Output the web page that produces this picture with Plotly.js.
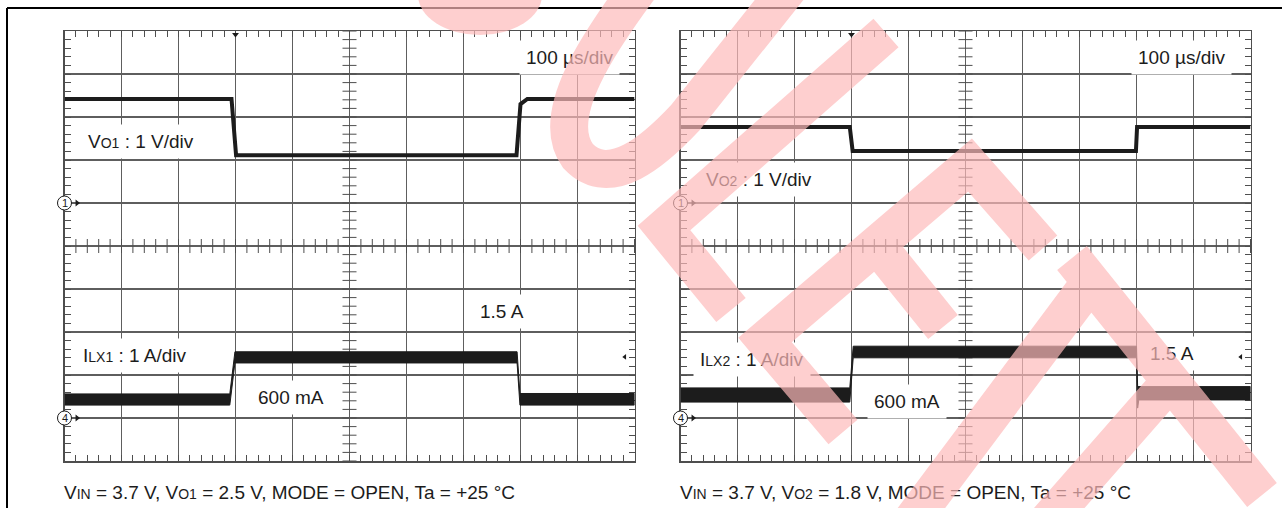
<!DOCTYPE html>
<html>
<head>
<meta charset="utf-8">
<script src="https://cdn.plot.ly/plotly-3.0.1.min.js"></script>
<style>
html,body{margin:0;padding:0;background:#fff;}
#wrap{position:relative;width:1282px;height:508px;overflow:hidden;}
#chart,#wm{position:absolute;left:0;top:0;width:1282px;height:508px;}
#wm{pointer-events:none;}
</style>
</head>
<body>
<div id="wrap"><div id="chart"></div><div id="wm"></div></div>
<script>
// ---------------- DATA ----------------
// time in µs, 100 µs/div, 10 divisions
// Left screen: Vo1 (V, relative to ground marker 1), ILX1 (A, relative to ground marker 4)
const vo1_t   = [0, 293, 301, 793, 800, 812, 1000];
const vo1_v   = [2.42, 2.42, 1.11, 1.11, 2.30, 2.42, 2.42];
const ilx1_t  = [0, 290, 299, 794, 799, 1000];
const ilx1_hi = [0.56, 0.56, 1.54, 1.54, 0.57, 0.57];
const ilx1_lo = [0.30, 0.30, 1.28, 1.28, 0.30, 0.30];
// Right screen: Vo2, ILX2
const vo2_t   = [0, 297, 302, 799, 801, 1000];
const vo2_v   = [1.77, 1.77, 1.21, 1.21, 1.77, 1.77];
const ilx2_t  = [0, 297, 303, 800, 802, 804, 1000];
const ilx2_hi = [0.70, 0.70, 1.67, 1.67, 0.73, 0.73, 0.73];
const ilx2_lo = [0.37, 0.37, 1.40, 1.40, 0.23, 0.42, 0.42];
// trigger position (µs) and trigger level (A) for left / right screen
const trig_t     = [300, 300];
const trig_level = [1.42, 1.42];
// labels
const timeLabel   = '100 µs/div';
const vLabels     = ['V<span style="font-size:14px">O1</span> : 1 V/div', 'V<span style="font-size:14px">O2</span> : 1 V/div'];
const iLabels     = ['I<span style="font-size:14px">LX1</span> : 1 A/div', 'I<span style="font-size:14px">LX2</span> : 1 A/div'];
const lowLabel    = '600 mA';
const highLabel   = '1.5 A';
const condLabels  = [
  'V<span style="font-size:14px">IN</span> = 3.7 V, V<span style="font-size:14px">O1</span> = 2.5 V, MODE = OPEN, Ta = +25 °C',
  'V<span style="font-size:14px">IN</span> = 3.7 V, V<span style="font-size:14px">O2</span> = 1.8 V, MODE = OPEN, Ta = +25 °C'
];
const channelNums = ['1', '4'];

// ---------------- STYLE / LAYOUT ----------------
const W = 1282, H = 508;
const INK = '#1c1c1c', GRID = '#5e5e5e', BORDER = '#4e4e4e';
const FONT = "'Liberation Sans', Arial, Helvetica, sans-serif";
const CH1_GND = 6, CH4_GND = 1;        // ground reference positions, divisions from bottom
const V_PER_DIV = 1, A_PER_DIV = 1;

const yDom = [47 / H, 477 / H];
const xDoms = [[64.5 / W, 634.5 / W], [680.5 / W, 1250.5 / W]];

function axX(domain, anchor) {
  return {domain, anchor, range: [0, 1000], tick0: 0, dtick: 100, showgrid: true, gridcolor: GRID, gridwidth: 1.2,
    showline: true, linecolor: BORDER, linewidth: 1.5, mirror: 'allticks', ticks: 'inside', ticklen: 6,
    tickcolor: BORDER, tickwidth: 1, showticklabels: false, zeroline: false, fixedrange: true, layer: 'below traces',
    minor: {tick0: 0, dtick: 20, ticks: 'inside', ticklen: 6, tickcolor: BORDER, tickwidth: 1, showgrid: false}};
}
function axY(domain, anchor) {
  return {domain, anchor, range: [0, 10], tick0: 0, dtick: 1, showgrid: true, gridcolor: GRID, gridwidth: 1.2,
    showline: true, linecolor: BORDER, linewidth: 1.5, mirror: 'allticks', ticks: 'inside', ticklen: 6,
    tickcolor: BORDER, tickwidth: 1, showticklabels: false, zeroline: false, fixedrange: true, layer: 'below traces',
    minor: {tick0: 0, dtick: 0.2, ticks: 'inside', ticklen: 6, tickcolor: BORDER, tickwidth: 1, showgrid: false}};
}

const screens = [
  {xa: 'x', ya: 'y', vt: vo1_t, vv: vo1_v, it: ilx1_t, ihi: ilx1_hi, ilo: ilx1_lo},
  {xa: 'x2', ya: 'y2', vt: vo2_t, vv: vo2_v, it: ilx2_t, ihi: ilx2_hi, ilo: ilx2_lo}
];

const traces = [];
screens.forEach((s, k) => {
  // centre-line graticule ticks
  const cx = [], cy = [];
  for (let i = 0; i <= 50; i++) { cx.push(i * 20); cy.push(i * 0.2); }
  traces.push({type: 'scatter', mode: 'markers', x: cx, y: cx.map(() => 5), xaxis: s.xa, yaxis: s.ya,
    marker: {symbol: 'line-ns-open', size: 10, color: BORDER, line: {color: BORDER, width: 1}}, hoverinfo: 'skip', cliponaxis: false});
  traces.push({type: 'scatter', mode: 'markers', x: cy.map(() => 500), y: cy, xaxis: s.xa, yaxis: s.ya,
    marker: {symbol: 'line-ew-open', size: 10, color: BORDER, line: {color: BORDER, width: 1}}, hoverinfo: 'skip', cliponaxis: false});
  // voltage trace
  traces.push({type: 'scatter', mode: 'lines', x: s.vt, y: s.vv.map(v => CH1_GND + v / V_PER_DIV),
    xaxis: s.xa, yaxis: s.ya, line: {color: INK, width: 4}, hoverinfo: 'skip'});
  // inductor current (noisy band drawn from its envelope)
  const bx = s.it.concat(s.it.slice().reverse());
  const by = s.ihi.map(a => CH4_GND + a / A_PER_DIV).concat(s.ilo.slice().reverse().map(a => CH4_GND + a / A_PER_DIV));
  traces.push({type: 'scatter', mode: 'lines', x: bx, y: by, fill: 'toself', fillcolor: INK,
    xaxis: s.xa, yaxis: s.ya, line: {color: INK, width: 1}, hoverinfo: 'skip'});
  // ground arrows
  traces.push({type: 'scatter', mode: 'markers', x: [22, 22], y: [CH1_GND, CH4_GND], xaxis: s.xa, yaxis: s.ya,
    marker: {symbol: 'triangle-right', size: 6, color: INK}, hoverinfo: 'skip', cliponaxis: false});
  // ground marker circles
  traces.push({type: 'scatter', mode: 'markers', x: [0, 0], y: [CH1_GND, CH4_GND], xaxis: s.xa, yaxis: s.ya,
    marker: {symbol: 'circle', size: 14, color: '#ffffff', line: {color: INK, width: 1}}, hoverinfo: 'skip', cliponaxis: false});
  // trigger position (top) and trigger level (right)
  traces.push({type: 'scatter', mode: 'markers', x: [trig_t[k]], y: [9.92], xaxis: s.xa, yaxis: s.ya,
    marker: {symbol: 'triangle-down', size: 6, color: INK}, hoverinfo: 'skip', cliponaxis: false});
  traces.push({type: 'scatter', mode: 'markers', x: [983], y: [CH4_GND + trig_level[k] / A_PER_DIV], xaxis: s.xa, yaxis: s.ya,
    marker: {symbol: 'triangle-left', size: 5, color: INK}, hoverinfo: 'skip', cliponaxis: false});
});

function lab(text, px, py, opts) {
  return Object.assign({text, xref: 'paper', yref: 'paper', x: px / W, y: 1 - py / H,
    xanchor: 'left', yanchor: 'middle', showarrow: false, align: 'left',
    font: {family: FONT, size: 19, color: INK}}, opts || {});
}
const BOX = {bgcolor: '#ffffff', borderpad: 6};
const annotations = [
  lab(timeLabel, 525 - 6, 57, BOX),
  lab(vLabels[0], 87 - 6, 142, BOX),
  lab(iLabels[0], 82 - 6, 355, BOX),
  lab(lowLabel, 257 - 6, 397, BOX),
  lab(highLabel, 479 - 6, 311, BOX),
  lab(timeLabel, 1137 - 6, 57, BOX),
  lab(vLabels[1], 705 - 6, 179, BOX),
  lab(iLabels[1], 699 - 6, 359, BOX),
  lab(lowLabel, 873 - 6, 401, BOX),
  lab(highLabel, 1149 - 6, 353, BOX),
  lab(condLabels[0], 62, 492),
  lab(condLabels[1], 678, 492)
];
['x', 'x2'].forEach((xr, k) => {
  const yr = k === 0 ? 'y' : 'y2';
  [CH1_GND, CH4_GND].forEach((g, j) => {
    annotations.push({text: channelNums[j], xref: xr, yref: yr, x: 0, y: g, xanchor: 'center', yanchor: 'middle',
      showarrow: false, borderpad: 0, font: {family: FONT, size: 11, color: INK}});
  });
});

const layout = {
  width: W, height: H, margin: {l: 0, r: 0, t: 0, b: 0},
  paper_bgcolor: '#ffffff', plot_bgcolor: '#ffffff', showlegend: false, hovermode: false,
  xaxis: axX(xDoms[0], 'y'), yaxis: axY(yDom, 'x'),
  xaxis2: axX(xDoms[1], 'y2'), yaxis2: axY(yDom, 'x2'),
  annotations,
  shapes: [
    {type: 'line', xref: 'paper', yref: 'paper', x0: 7 / W, x1: 1.01, y0: 1 - 8 / H, y1: 1 - 8 / H, line: {color: '#000', width: 2}},
    {type: 'line', xref: 'paper', yref: 'paper', x0: 7 / W, x1: 7 / W, y0: -0.02, y1: 1 - 8 / H, line: {color: '#000', width: 2}}
  ]
};
Plotly.newPlot('chart', traces, layout, {staticPlot: true, displayModeBar: false});

// ---------------- watermark overlay (decoration) ----------------
const PINK = 'rgb(254,186,186)';
const wmShapes = [
  {type: 'circle', x0: 418, x1: 542, y0: -45, y1: 35, fillcolor: PINK, line: {width: 0}},
  {type: 'path', path: 'M 645,-20 C 600,40 548,115 578,156 C 610,190 655,150 685,118 L 795,-20', line: {color: PINK, width: 38}},
  {type: 'path', path: 'M 886,33 L 664,228 L 731,310', line: {color: PINK, width: 38}},
  {type: 'path', path: 'M 1043,248 L 970,165 L 765,340 L 843,432 M 877,245 L 943,327', line: {color: PINK, width: 38}},
  {type: 'path', path: 'M 905,530 L 1092,280 M 1072,258 L 1262,495 M 1040,530 L 1168,384', line: {color: PINK, width: 38}}
].map(s => Object.assign({xref: 'x', yref: 'y', opacity: 0.69, layer: 'above', fillcolor: 'rgba(0,0,0,0)'}, s));
Plotly.newPlot('wm', [], {
  width: W, height: H, margin: {l: 0, r: 0, t: 0, b: 0},
  paper_bgcolor: 'rgba(0,0,0,0)', plot_bgcolor: 'rgba(0,0,0,0)',
  xaxis: {range: [0, W], visible: false, fixedrange: true},
  yaxis: {range: [H, 0], visible: false, fixedrange: true},
  shapes: wmShapes, showlegend: false
}, {staticPlot: true, displayModeBar: false});
</script>
</body>
</html>
